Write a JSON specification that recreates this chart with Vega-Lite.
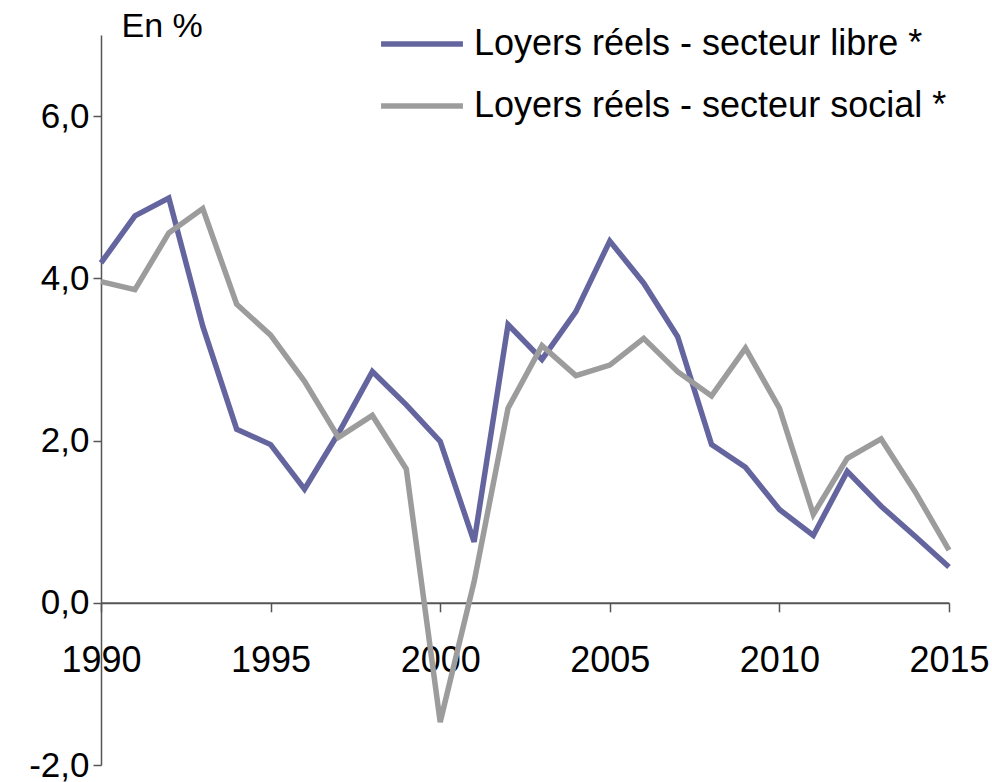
{
  "$schema": "https://vega.github.io/schema/vega-lite/v6.json",
  "width": 848,
  "height": 730,
  "autosize": "none",
  "padding": {"left": 101, "top": 35, "right": 43, "bottom": 17},
  "background": "white",
  "config": {
    "view": {"stroke": null},
    "font": "Liberation Sans"
  },
  "data": {
    "values": [
      {"year": 1990, "serie": "Loyers réels - secteur libre *", "value": 4.19},
      {"year": 1991, "serie": "Loyers réels - secteur libre *", "value": 4.77},
      {"year": 1992, "serie": "Loyers réels - secteur libre *", "value": 4.99},
      {"year": 1993, "serie": "Loyers réels - secteur libre *", "value": 3.41},
      {"year": 1994, "serie": "Loyers réels - secteur libre *", "value": 2.14},
      {"year": 1995, "serie": "Loyers réels - secteur libre *", "value": 1.95},
      {"year": 1996, "serie": "Loyers réels - secteur libre *", "value": 1.40},
      {"year": 1997, "serie": "Loyers réels - secteur libre *", "value": 2.09},
      {"year": 1998, "serie": "Loyers réels - secteur libre *", "value": 2.85},
      {"year": 1999, "serie": "Loyers réels - secteur libre *", "value": 2.44},
      {"year": 2000, "serie": "Loyers réels - secteur libre *", "value": 1.99},
      {"year": 2001, "serie": "Loyers réels - secteur libre *", "value": 0.75},
      {"year": 2002, "serie": "Loyers réels - secteur libre *", "value": 3.43},
      {"year": 2003, "serie": "Loyers réels - secteur libre *", "value": 3.0},
      {"year": 2004, "serie": "Loyers réels - secteur libre *", "value": 3.59},
      {"year": 2005, "serie": "Loyers réels - secteur libre *", "value": 4.46},
      {"year": 2006, "serie": "Loyers réels - secteur libre *", "value": 3.94},
      {"year": 2007, "serie": "Loyers réels - secteur libre *", "value": 3.28},
      {"year": 2008, "serie": "Loyers réels - secteur libre *", "value": 1.95},
      {"year": 2009, "serie": "Loyers réels - secteur libre *", "value": 1.67},
      {"year": 2010, "serie": "Loyers réels - secteur libre *", "value": 1.15},
      {"year": 2011, "serie": "Loyers réels - secteur libre *", "value": 0.83},
      {"year": 2012, "serie": "Loyers réels - secteur libre *", "value": 1.62},
      {"year": 2013, "serie": "Loyers réels - secteur libre *", "value": 1.19},
      {"year": 2014, "serie": "Loyers réels - secteur libre *", "value": 0.82},
      {"year": 2015, "serie": "Loyers réels - secteur libre *", "value": 0.44},
      {"year": 1990, "serie": "Loyers réels - secteur social *", "value": 3.96},
      {"year": 1991, "serie": "Loyers réels - secteur social *", "value": 3.86},
      {"year": 1992, "serie": "Loyers réels - secteur social *", "value": 4.56},
      {"year": 1993, "serie": "Loyers réels - secteur social *", "value": 4.86},
      {"year": 1994, "serie": "Loyers réels - secteur social *", "value": 3.68},
      {"year": 1995, "serie": "Loyers réels - secteur social *", "value": 3.30},
      {"year": 1996, "serie": "Loyers réels - secteur social *", "value": 2.73},
      {"year": 1997, "serie": "Loyers réels - secteur social *", "value": 2.04},
      {"year": 1998, "serie": "Loyers réels - secteur social *", "value": 2.31},
      {"year": 1999, "serie": "Loyers réels - secteur social *", "value": 1.65},
      {"year": 2000, "serie": "Loyers réels - secteur social *", "value": -1.47},
      {"year": 2001, "serie": "Loyers réels - secteur social *", "value": 0.26},
      {"year": 2002, "serie": "Loyers réels - secteur social *", "value": 2.40},
      {"year": 2003, "serie": "Loyers réels - secteur social *", "value": 3.17},
      {"year": 2004, "serie": "Loyers réels - secteur social *", "value": 2.80},
      {"year": 2005, "serie": "Loyers réels - secteur social *", "value": 2.93},
      {"year": 2006, "serie": "Loyers réels - secteur social *", "value": 3.26},
      {"year": 2007, "serie": "Loyers réels - secteur social *", "value": 2.85},
      {"year": 2008, "serie": "Loyers réels - secteur social *", "value": 2.55},
      {"year": 2009, "serie": "Loyers réels - secteur social *", "value": 3.14},
      {"year": 2010, "serie": "Loyers réels - secteur social *", "value": 2.40},
      {"year": 2011, "serie": "Loyers réels - secteur social *", "value": 1.09},
      {"year": 2012, "serie": "Loyers réels - secteur social *", "value": 1.78},
      {"year": 2013, "serie": "Loyers réels - secteur social *", "value": 2.02},
      {"year": 2014, "serie": "Loyers réels - secteur social *", "value": 1.37},
      {"year": 2015, "serie": "Loyers réels - secteur social *", "value": 0.65}
    ]
  },
  "mark": {"type": "line", "strokeWidth": 5.5, "strokeJoin": "miter"},
  "encoding": {
    "x": {
      "field": "year",
      "type": "quantitative",
      "scale": {"domain": [1990, 2015], "nice": false, "zero": false},
      "axis": {
        "title": null,
        "values": [1990, 1995, 2000, 2005, 2010, 2015],
        "format": "d",
        "grid": false,
        "offset": -162.2,
        "domainColor": "#555555",
        "domainWidth": 2,
        "tickColor": "#555555",
        "tickWidth": 1.5,
        "tickSize": 9,
        "labelFontSize": 36,
        "labelColor": "#000000",
        "labelPadding": 32,
        "labelFlush": false
      }
    },
    "y": {
      "field": "value",
      "type": "quantitative",
      "scale": {"domain": [-2, 7], "nice": false, "zero": false},
      "axis": {
        "title": "En %",
        "titleAngle": 0,
        "titleAlign": "left",
        "titleBaseline": "middle",
        "titleX": 20,
        "titleY": -9,
        "titleFontSize": 34,
        "titleFontWeight": "normal",
        "titleColor": "#000000",
        "values": [-2, 0, 2, 4, 6],
        "labelExpr": "replace(replace(format(datum.value, '.1f'), '.', ','), '\u2212', '-')",
        "grid": false,
        "domainColor": "#555555",
        "domainWidth": 1.5,
        "tickColor": "#555555",
        "tickWidth": 1.5,
        "tickSize": 8,
        "labelFontSize": 35,
        "labelColor": "#000000",
        "labelPadding": 4
      }
    },
    "color": {
      "field": "serie",
      "type": "nominal",
      "scale": {
        "domain": ["Loyers réels - secteur libre *", "Loyers réels - secteur social *"],
        "range": ["#64659f", "#9c9c9c"]
      },
      "legend": {
        "title": null,
        "orient": "none",
        "legendX": 277,
        "legendY": -35,
        "symbolType": "stroke",
        "symbolSize": 6700,
        "symbolStrokeWidth": 5.5,
        "labelFontSize": 36,
        "labelColor": "#000000",
        "labelOffset": 8,
        "labelLimit": 0,
        "rowPadding": -24
      }
    }
  }
}
